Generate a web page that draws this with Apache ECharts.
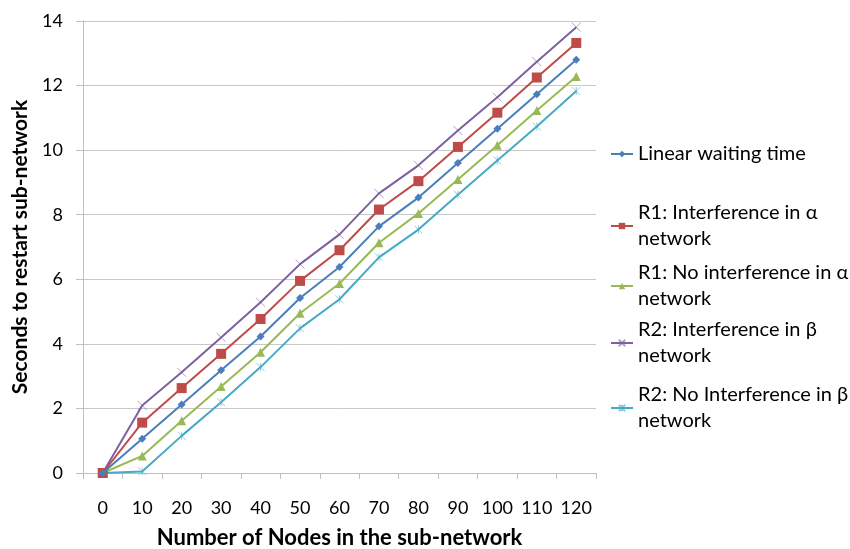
<!DOCTYPE html>
<html><head><meta charset="utf-8">
<script src="https://cdn.jsdelivr.net/npm/echarts@6/dist/echarts.min.js"></script>
<style>html,body{margin:0;padding:0;background:#fff}#c{width:850px;height:549px}</style>
</head><body><div id="c"></div>
<script>
const categories = ['0','10','20','30','40','50','60','70','80','90','100','110','120'];
const linearWait = [0, 1.06, 2.12, 3.18, 4.23, 5.42, 6.38, 7.64, 8.53, 9.60, 10.66, 11.73, 12.80];
const r1Interf   = [0, 1.56, 2.63, 3.69, 4.77, 5.95, 6.90, 8.16, 9.04, 10.10, 11.16, 12.25, 13.32];
const r1NoInterf = [0, 0.53, 1.62, 2.68, 3.74, 4.95, 5.87, 7.13, 8.04, 9.09, 10.15, 11.23, 12.28];
const r2Interf   = [0, 2.09, 3.12, 4.20, 5.29, 6.47, 7.39, 8.66, 9.53, 10.61, 11.64, 12.74, 13.81];
const r2NoInterf = [0, 0.05, 1.15, 2.19, 3.28, 4.48, 5.38, 6.68, 7.54, 8.62, 9.68, 10.73, 11.83];
const seriesNames = ['Linear waiting time','R1: Interference in α network','R1: No interference in α network','R2: Interference in β network','R2: No Interference in β network'];
const legendLabels = ['Linear waiting time','R1: Interference in α\nnetwork','R1: No interference in α\nnetwork','R2: Interference in β\nnetwork','R2: No Interference in β\nnetwork'];
const yTicks = [0,2,4,6,8,10,12,14];

const FONT = 'Lato';
const colors = ['#4A7EBB','#BE4B48','#98B954','#7D60A0','#46AAC5'];
const dataSets = [linearWait, r1Interf, r1NoInterf, r2Interf, r2NoInterf];
const symbols = ['diamond','rect','triangle','path://M0,0L10,10M10,0L0,10','path://M0,0L10,10M10,0L0,10M5,0L5,10'];
const symSizes = [8, 10, 9, 9, 8];
const legendTops = [136, 182, 242, 299, 364];

const series = dataSets.map((d, i) => {
  const lineSym = i >= 3;
  return {
    name: seriesNames[i], type: 'line', data: d,
    symbol: symbols[i], symbolSize: symSizes[i], showSymbol: true,
    lineStyle: {color: colors[i], width: 2},
    itemStyle: lineSym ? {color: 'rgba(0,0,0,0)', borderColor: colors[i], borderWidth: 1, opacity: 0.6}
                       : {color: colors[i], borderWidth: 0},
    color: colors[i],
    z: 10 - i
  };
});

const legends = seriesNames.map((n, i) => ({
  data: [n],
  left: 605, top: legendTops[i],
  orient: 'vertical',
  itemWidth: 22, itemHeight: 8,
  itemGap: 0,
  formatter: () => legendLabels[i],
  textStyle: {fontFamily: FONT, fontSize: 20, color: '#000', lineHeight: 26,
    padding: i === 0 ? 0 : [26, 0, 0, 0]},
  selectedMode: false
}));

const chart = echarts.init(document.getElementById('c'), null, {renderer: 'canvas'});
chart.setOption({
  animation: false,
  color: colors,
  legend: legends,
  grid: {left: 83, right: 254, top: 21, bottom: 76, containLabel: false, outerBoundsMode: 'none'},
  xAxis: {
    type: 'category', data: categories, boundaryGap: true,
    name: 'Number of Nodes in the sub-network', nameLocation: 'middle', nameGap: 54,
    nameMoveOverlap: false,
    nameTextStyle: {fontFamily: FONT, fontSize: 22, fontWeight: 'bold', color: '#000'},
    axisLine: {lineStyle: {color: '#BFBFBF', width: 1}},
    axisTick: {show: true, length: 6, lineStyle: {color: '#BFBFBF'}, alignWithLabel: false},
    axisLabel: {fontFamily: FONT, fontSize: 18, color: '#000', margin: 26, interval: 0}
  },
  yAxis: {
    type: 'value', min: yTicks[0], max: yTicks[yTicks.length-1], interval: 2,
    name: 'Seconds to restart sub-network', nameLocation: 'middle', nameGap: 52,
    nameMoveOverlap: false,
    nameTextStyle: {fontFamily: FONT, fontSize: 21, fontWeight: 'bold', color: '#000'},
    axisLine: {show: true, lineStyle: {color: '#BFBFBF', width: 1}},
    axisTick: {show: true, length: 7, lineStyle: {color: '#BFBFBF'}},
    axisLabel: {fontFamily: FONT, fontSize: 18, color: '#000', margin: 20},
    splitLine: {show: true, lineStyle: {color: '#C8C8C8', width: 1}}
  },
  series: series
});
</script></body></html>
